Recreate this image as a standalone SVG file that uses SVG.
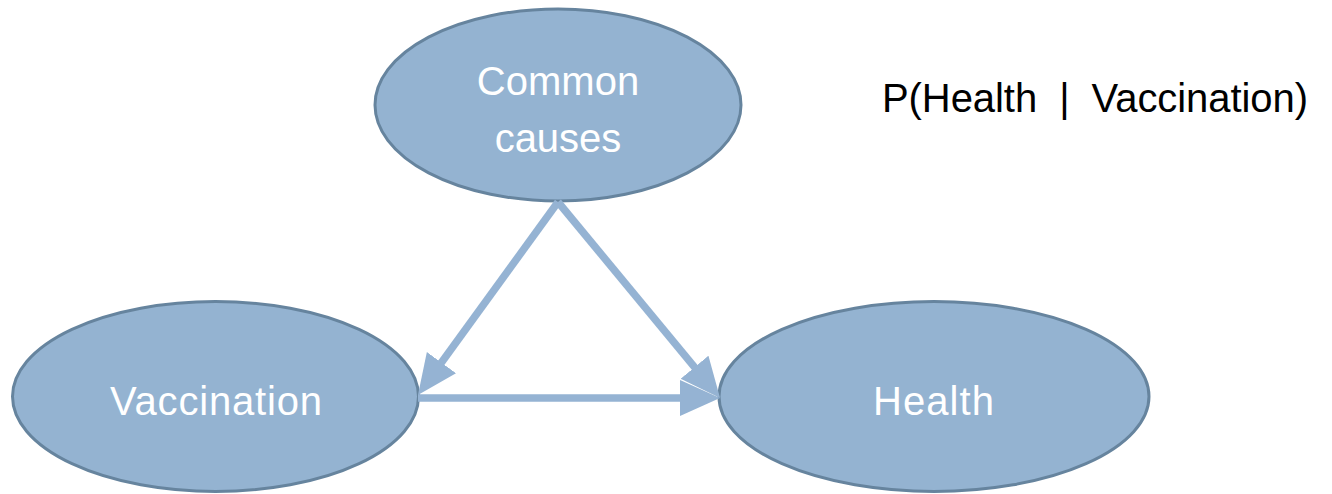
<svg xmlns="http://www.w3.org/2000/svg" width="1332" height="494" viewBox="0 0 1332 494">
<style>
.node{fill:#94B3D1;stroke:#66849E;stroke-width:3}
.lbl{font-family:"Liberation Sans",Arial,sans-serif;font-size:40px;fill:#FFFFFF;text-anchor:middle}
.edge{stroke:#95B3D3;stroke-width:7.5;fill:none;marker-end:url(#ah)}
.formula{font-family:"Liberation Sans",Arial,sans-serif;font-size:40px;fill:#000000}
</style>
<defs>
<marker id="ah" markerUnits="userSpaceOnUse" markerWidth="42" markerHeight="38" refX="20" refY="18" orient="auto" viewBox="0 0 42 38">
<path d="M0,0 L40,18 L0,36 Z" fill="#95B3D3"/>
</marker>
</defs>
<rect width="1332" height="494" fill="#FFFFFF"/>
<g id="common-causes">
<ellipse class="node" cx="558" cy="105" rx="183" ry="96"/>
<text class="lbl" x="558" y="95">Common</text>
<text class="lbl" x="558" y="152">causes</text>
</g>
<g id="vaccination">
<ellipse class="node" cx="215.5" cy="396.5" rx="203" ry="95"/>
<text class="lbl" x="216" y="415" textLength="212" lengthAdjust="spacing">Vaccination</text>
</g>
<g id="health">
<ellipse class="node" cx="934" cy="396.5" rx="215" ry="95"/>
<text class="lbl" x="933.5" y="415" textLength="121" lengthAdjust="spacing">Health</text>
</g>
<g id="connectors">
<line class="edge" x1="558" y1="202" x2="429.7" y2="378.8"/>
<line class="edge" x1="558" y1="202" x2="707.3" y2="382.6"/>
<line class="edge" x1="418" y1="398" x2="700" y2="398"/>
</g>
<g id="formula">
<text class="formula" x="882" y="112" textLength="426" lengthAdjust="spacing" xml:space="preserve">P(Health  |  Vaccination)</text>
</g>
</svg>
